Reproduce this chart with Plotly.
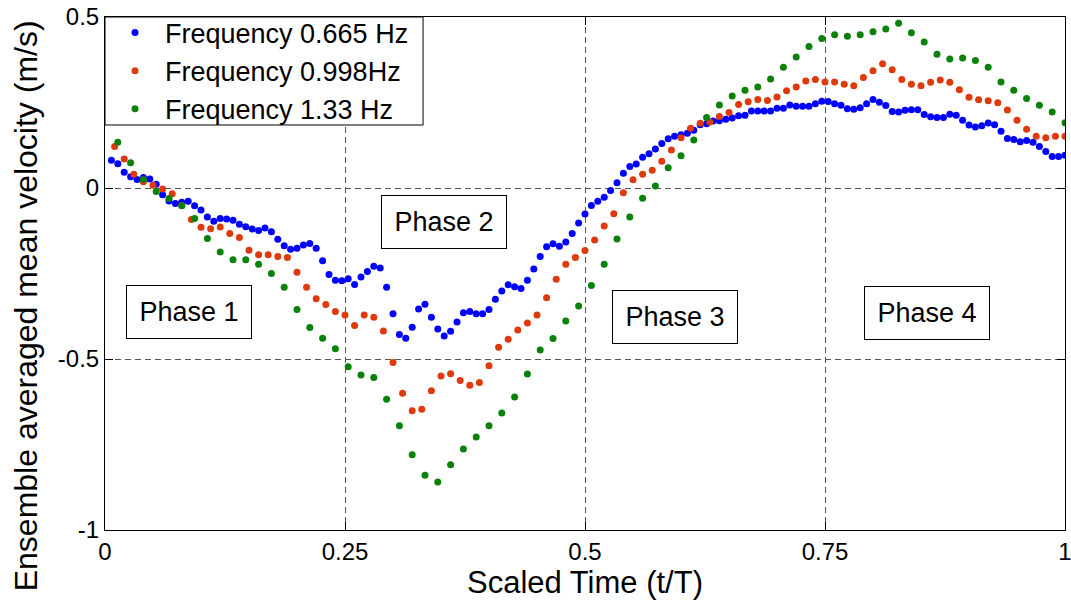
import plotly.graph_objects as go

# sampled positions within one period (t/T)
n_blue, n_red, n_green = 150, 100, 75
t_blue = [i / n_blue for i in range(1, n_blue + 1)]
t_red = [i / n_red for i in range(1, n_red + 1)]
t_green = [i / n_green for i in range(1, n_green + 1)]

v_blue = [
    0.081, 0.071, 0.046, 0.033, 0.025, 0.031, 0.026, 0.011, -0.020, -0.038,
    -0.045, -0.042, -0.039, -0.052, -0.064, -0.085, -0.097, -0.089, -0.091, -0.094,
    -0.106, -0.113, -0.120, -0.124, -0.117, -0.128, -0.150, -0.169, -0.179, -0.176,
    -0.167, -0.162, -0.176, -0.213, -0.253, -0.270, -0.271, -0.265, -0.282, -0.260,
    -0.244, -0.229, -0.234, -0.290, -0.368, -0.428, -0.439, -0.407, -0.354, -0.340,
    -0.378, -0.412, -0.433, -0.419, -0.392, -0.365, -0.361, -0.368, -0.368, -0.355,
    -0.325, -0.301, -0.283, -0.289, -0.294, -0.270, -0.237, -0.200, -0.172, -0.163,
    -0.170, -0.158, -0.133, -0.102, -0.076, -0.051, -0.039, -0.027, -0.007, 0.015,
    0.043, 0.063, 0.070, 0.090, 0.100, 0.114, 0.130, 0.144, 0.151, 0.156,
    0.160, 0.169, 0.185, 0.188, 0.196, 0.197, 0.201, 0.205, 0.211, 0.213,
    0.225, 0.225, 0.225, 0.225, 0.233, 0.233, 0.243, 0.239, 0.239, 0.239,
    0.246, 0.254, 0.253, 0.246, 0.242, 0.232, 0.230, 0.235, 0.246, 0.259,
    0.251, 0.241, 0.224, 0.222, 0.227, 0.229, 0.229, 0.215, 0.208, 0.206,
    0.206, 0.216, 0.213, 0.198, 0.184, 0.178, 0.182, 0.190, 0.185, 0.166,
    0.145, 0.142, 0.135, 0.139, 0.134, 0.121, 0.107, 0.092, 0.092, 0.096,
]

v_red = [
    0.121, 0.085, 0.040, 0.018, 0.008, -0.003, -0.017, -0.051, -0.092, -0.115,
    -0.119, -0.114, -0.133, -0.145, -0.182, -0.195, -0.195, -0.200, -0.203, -0.246,
    -0.290, -0.324, -0.341, -0.361, -0.371, -0.402, -0.371, -0.378, -0.418, -0.510,
    -0.600, -0.651, -0.647, -0.593, -0.550, -0.543, -0.563, -0.577, -0.569, -0.520,
    -0.466, -0.442, -0.415, -0.395, -0.371, -0.321, -0.267, -0.223, -0.203, -0.183,
    -0.152, -0.111, -0.075, -0.014, 0.024, 0.040, 0.052, 0.078, 0.111, 0.147,
    0.175, 0.189, 0.193, 0.209, 0.221, 0.244, 0.252, 0.259, 0.256, 0.266,
    0.284, 0.295, 0.313, 0.317, 0.310, 0.310, 0.303, 0.299, 0.323, 0.343,
    0.363, 0.346, 0.317, 0.303, 0.299, 0.309, 0.316, 0.309, 0.287, 0.265,
    0.258, 0.255, 0.249, 0.228, 0.198, 0.172, 0.151, 0.147, 0.151, 0.151,
]

v_green = [
    0.134, 0.074, 0.025, -0.010, -0.031, -0.052, -0.089, -0.148, -0.187, -0.210,
    -0.210, -0.223, -0.250, -0.290, -0.355, -0.408, -0.439, -0.470, -0.523, -0.547,
    -0.554, -0.618, -0.695, -0.780, -0.840, -0.860, -0.809, -0.763, -0.728, -0.695,
    -0.658, -0.611, -0.544, -0.474, -0.440, -0.389, -0.345, -0.285, -0.223, -0.149,
    -0.085, -0.030, 0.006, 0.059, 0.094, 0.140, 0.206, 0.243, 0.269, 0.286,
    0.295, 0.319, 0.353, 0.383, 0.414, 0.437, 0.448, 0.444, 0.448, 0.457,
    0.465, 0.482, 0.454, 0.427, 0.391, 0.377, 0.380, 0.373, 0.353, 0.310,
    0.286, 0.262, 0.242, 0.222, 0.191,
]

series_names = ["Frequency 0.665 Hz", "Frequency 0.998Hz", "Frequency 1.33 Hz"]
series_colors = ["#0000ff", "#dd3a0e", "#0a820a"]

x_ticks = [0, 0.25, 0.5, 0.75, 1]
x_ticktext = ["0", "0.25", "0.5", "0.75", "1"]
y_ticks = [-1, -0.5, 0, 0.5]
y_ticktext = ["-1", "-0.5", "0", "0.5"]

phase_labels = ["Phase 1", "Phase 2", "Phase 3", "Phase 4"]
phase_x = [0.0875, 0.3535, 0.594, 0.856]
phase_y = [-0.364, -0.099, -0.377, -0.366]

FONT = "Liberation Sans, Arial, sans-serif"

fig = go.Figure()
for t, v, name, col in zip([t_blue, t_red, t_green], [v_blue, v_red, v_green],
                           series_names, series_colors):
    fig.add_trace(go.Scatter(x=t, y=v, mode="markers", name=name,
                             marker=dict(color=col, size=7, line=dict(width=0))))

for lab, px, py in zip(phase_labels, phase_x, phase_y):
    fig.add_annotation(x=px, y=py, xref="x", yref="y", text=lab, showarrow=False,
                       font=dict(family=FONT, size=27, color="black"),
                       bordercolor="black", borderwidth=1, borderpad=2,
                       bgcolor="white", width=120, height=48)

# y-axis title (placed as a rotated annotation, as in the reference it sits slightly low)
fig.add_annotation(x=-0.0823, y=0.438, xref="paper", yref="paper",
                   text="Ensemble averaged mean velocity (m/s)", showarrow=False,
                   textangle=-90, xanchor="center", yanchor="middle",
                   font=dict(family=FONT, size=32, color="black"))

# legend frame (white box in the top-left corner of the axes)
fig.add_shape(type="rect", xref="paper", yref="paper", x0=0, x1=0.3313, y0=0.7895, y1=1,
              line=dict(color="black", width=1), fillcolor="white", layer="above")

axis_common = dict(showline=True, linecolor="black", linewidth=1, mirror="ticks",
                   ticks="inside", ticklen=8, tickcolor="black", automargin=False,
                   ticklabeloverflow="allow",
                   showgrid=True, gridcolor="#555555", griddash="6px,4px", gridwidth=1,
                   zeroline=False, tickfont=dict(family=FONT, size=24, color="black"))

fig.update_xaxes(range=[0, 1], tickvals=x_ticks, ticktext=x_ticktext,
                 title=dict(text="Scaled Time (t/T)", font=dict(family=FONT, size=31, color="black"),
                            standoff=0),
                 **axis_common)
fig.update_yaxes(range=[-1, 0.5], tickvals=y_ticks, ticktext=y_ticktext, **axis_common)

fig.update_layout(
    width=1071, height=604,
    margin=dict(l=105, r=6, t=17, b=74),
    paper_bgcolor="white", plot_bgcolor="white",
    font=dict(family=FONT, color="black"),
    legend=dict(x=0, y=0.8947, xanchor="left", yanchor="middle",
                bgcolor="rgba(0,0,0,0)", borderwidth=0,
                font=dict(family=FONT, size=27, color="black"),
                itemwidth=50, tracegroupgap=0),
    showlegend=True,
)

fig.write_html("out.html")
